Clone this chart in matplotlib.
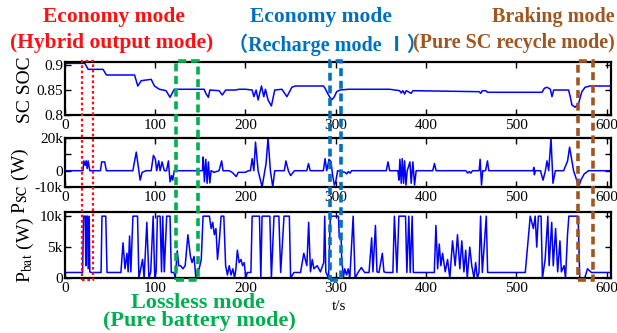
import matplotlib
matplotlib.use('Agg')
import matplotlib.pyplot as plt
from matplotlib.patches import Rectangle
from matplotlib.transforms import blended_transform_factory

plt.rcParams['font.family'] = 'serif'
plt.rcParams['font.serif'] = ['Liberation Serif', 'DejaVu Serif']
plt.rcParams['mathtext.fontset'] = 'stix'

# 超级电容 SOC
soc_t = [0, 22.0, 25.7, 42.2, 45.9, 77.1, 80.7, 84.5, 95.5, 99.1, 104.6, 112, 116.4, 121.1,
         154.2, 156, 158.9, 160.5, 170.7, 174.3, 178.1, 189.1, 192.7, 200.1, 207.4, 209.3,
         211.8, 214, 217.7, 220.3, 222.1, 225, 228.7, 232.4, 240.4, 245.9, 251.4, 255.2,
         286.3, 288.2, 291.9, 295.5, 298.5, 301, 304.7, 313.9, 359.8, 370.8, 372.6, 374.4,
         376.3, 378.1, 383.6, 385.5, 458.9, 460.7, 462.6, 466.2, 468.1, 528.6, 531.2, 534.1,
         537.8, 539.6, 541.5, 558, 559.8, 561.7, 565.3, 569.1, 572.7, 576.3, 581.8, 605]
soc_v = [0.9024, 0.9024, 0.8905, 0.8905, 0.8793, 0.8793, 0.8575, 0.868, 0.8707, 0.8575,
         0.851, 0.8482, 0.835, 0.851, 0.851, 0.843, 0.835, 0.8495, 0.8482, 0.8397, 0.8495,
         0.8495, 0.851, 0.851, 0.8495, 0.8363, 0.8495, 0.8298, 0.8575, 0.8363, 0.851, 0.8298,
         0.8179, 0.8495, 0.851, 0.8363, 0.855, 0.8575, 0.8575, 0.853, 0.8397, 0.8298, 0.8363,
         0.8462, 0.8495, 0.851, 0.851, 0.8482, 0.8436, 0.8482, 0.8416, 0.8482, 0.843, 0.8482,
         0.8462, 0.843, 0.8482, 0.8482, 0.845, 0.845, 0.853, 0.855, 0.851, 0.8363, 0.8495,
         0.8495, 0.8363, 0.8199, 0.8153, 0.8232, 0.8462, 0.855, 0.8575, 0.8575]

# 超级电容功率 (kW)
psc_t = [0, 20, 20.9, 22.4, 23.5, 24.6, 25.7, 27.5, 39.3, 40.7, 44, 45.9, 75.2, 79, 81.8,
         83.3, 85.5, 90, 95.5, 98, 100.2, 101.6, 103.9, 105.4, 107.6, 110.1, 112.5, 114.6,
         116.4, 118.2, 119.3, 121.1, 152.3, 153.1, 154.5, 156, 157.5, 158.9, 160.5, 161.9,
         165.2, 170.7, 173.6, 175.1, 181.7, 185.3, 189.8, 192, 200, 203.1, 205.5, 207.4,
         209.3, 211.1, 214, 218.4, 222.8, 225, 227.6, 230.2, 232.4, 243, 244.8, 247.5, 250,
         251.4, 254.4, 268, 269.8, 271.7, 286.3, 288.2, 290, 292.6, 294.8, 296.6, 298.5,
         299.9, 302.1, 310.2, 312.1, 314, 315.8, 317.6, 356, 357.9, 359.8, 368.9, 370, 371.1,
         372.6, 373.7, 375.2, 376.3, 377.8, 379.2, 382.2, 383.6, 385.5, 387.3, 389.1, 407.5,
         409.4, 411.2, 444.2, 446.1, 448, 449.7, 451.5, 458.9, 460, 461.5, 462.9, 466, 468.1,
         469.6, 518.7, 519.5, 520.1, 521.2, 526.8, 529.7, 532.3, 534.1, 536, 538.5, 540.7,
         543.3, 552.5, 556.9, 559.1, 561.7, 563.5, 566.3, 569.1, 571.6, 575.3, 580.1, 605]
psc_v = [0, 0, 6, 3.3, 6.1, 1.3, 6, 0, 0, 5.4, 5.4, 0, 0, 11.4, 0,
         -5.8, -1, 0, 0, 9.4, 7, 0, 6, 0, 5.4, 0, 0, 6,
         -6.8, -3, -5.8, 0, 0, 8.4, -6.8, 7, -7.7, 5.4, -7.5, 0,
         -1, 0, 6, 0, 0, -1, -3.6, -1, -1, 0, 0, 7.4,
         0, 17.5, 0, -10, 4.4, 20, 0, -10, 0, 0, 6, 0, -3,
         -2, 0, 0, 4.4, 0, 0, 7.4, 0, 7, 5.4, -3, -8.8,
         -7, 0, -1, -2, -0.5, -1.5, 0, 0, 5.4, 0, 0, -5.8, 7,
         -7.7, 7.4, -7.7, 6, -8.8, 0, 5.4, -7.7, 5.4, -8.8, 0, 0,
         4.4, 0, 0, -1.5, -0.5, -1.5, 0, 0, 7, -8.8, 0, 0, 6,
         0, 0, 2, -2.5, 0, 0, -5.8, 0, 6, 0, 20, -7.7,
         0, 0, 6, 14.4, 6, 0, -4.6, -10, -5.8, -2, 0, 0]

# 蓄电池功率 (kW)
pbat_t = [0, 19.5, 20.6, 22.4, 23.1, 23.9, 25, 25.7, 26.8, 27.5, 29, 40, 41, 45.2, 46.6,
          62, 64.3, 66.5, 68.7, 70, 71.6, 73, 75.3, 80.4, 81.9, 84, 86, 87.7, 90.7, 93, 95,
          97.7, 99.5, 101, 102.4, 105.4, 107, 108.3, 110, 112.7, 116.4, 117.8, 120.8, 122.2,
          124.4, 126, 128, 130.7, 133.2, 136.2, 139, 140.8, 143, 145, 147.4, 148.7, 151, 153,
          160, 162, 163.7, 165.5, 167.3, 169, 171, 173, 176, 178, 180, 182, 184, 186, 188,
          189.4, 191, 193, 195, 196.8, 198.6, 200.4, 202, 206, 207.4, 215.5, 217, 218.4, 227,
          228.7, 231.6, 237, 239, 242.7, 248.6, 250, 253.7, 261, 264.6, 268, 270, 272, 274,
          275.8, 279.5, 283, 286.7, 287.8, 289, 292, 294, 303, 303.9, 306, 306.5, 308.4, 310,
          312, 313.8, 315.6, 319.3, 321.4, 324.7, 328.4, 332, 336.9, 339.8, 341.2, 344, 345.7,
          347.9, 351.6, 353.4, 356, 363.3, 365, 367.8, 370, 377.3, 378.8, 381, 382.5, 384.7,
          386, 409.2, 411, 412.9, 414.7, 416.5, 418.4, 421.3, 423.9, 426.4, 429.4, 432.3,
          434.9, 437.5, 439.7, 442, 444, 445.7, 448.5, 450.7, 453.2, 455, 456.9, 458.7, 460.5,
          462.4, 466.8, 468.3, 510, 515.5, 519, 521, 522.7, 524.5, 527.5, 529, 532, 535,
          536.4, 539.3, 541, 543.6, 545.9, 548.4, 550, 553, 554.6, 556.8, 558.3, 568.5, 570.4,
          575.9, 578.9, 583.3, 605]
pbat_v = [0.9, 0.9, 10, 10, 2, 10, 10, 1.5, 10, 1, 0.9, 0.9, 10, 10, 0.9,
          0.9, 5.7, 1.5, 4, 1, 6.8, 1, 10, 10, 0, 1.5, 3, 0, 9, 0, 1,
          10, 0, 1, 10, 10, 1, 10, 1, 10, 10, 0.9, 0.9, 0,
          4.4, 2, 2, 1.5, 2, 7, 3.5, 2.5, 3.5, 0, 1.5, 1.5, 3, 10,
          10, 8, 9, 7, 8, 3, 6, 10, 10, 2, 0.5, 2, 0.5, 1.5, 0,
          1.5, 4.5, 2.5, 3, 2, 2.5, 0, 0.9, 0.9, 10, 10, 0, 10, 10,
          0, 10, 10, 0.9, 10, 10, 0, 0.9, 0.9, 4, 2, 9, 1, 3,
          1.5, 2, 1, 2.5, 10, 1, 0, 10, 10, 6.5, 6.5, 3.5, 0, 1.5,
          0.5, 1.5, 0, 10, 0, 0.9, 1.7, 0.9, 0.9, 6.5, 1, 8.5, 1,
          0.9, 4, 1, 0.9, 0.9, 10, 0.9, 10, 10, 0.9, 10, 0.9, 10,
          0.9, 0.9, 8.5, 1.5, 5.5, 2, 4, 1, 3, 0, 6, 2,
          7, 1.5, 6, 1, 4.5, 0, 5, 2, 0, 2.5, 0, 0.9, 10,
          0.9, 10, 0.9, 0.9, 10, 8, 10, 5, 10, 10, 0, 3, 10,
          2, 9, 2, 8, 1, 6, 1, 2, 0, 7, 10, 10, 0,
          0, 1.5, 0.9, 0.9]

# 工作模式区间 (s)
mode_spans = [(18.7, 30.8), (123.3, 147.6), (294, 306), (568.3, 584.8)]
mode_colors = ['#FF1010', '#00B050', '#0070C0', '#A0561E']

fig = plt.figure(figsize=(6.17, 3.33), dpi=100)
ax1 = fig.add_axes([0.1053, 0.6547, 0.885, 0.159])
ax2 = fig.add_axes([0.1053, 0.4384, 0.885, 0.147])
ax3 = fig.add_axes([0.1053, 0.165, 0.885, 0.197])

ax1.plot(soc_t, soc_v, color='#0000FF', lw=1.1)
ax2.plot(psc_t, [v * 1000 for v in psc_v], color='#0000FF', lw=1.1)
ax3.plot(pbat_t, [v * 1000 for v in pbat_v], color='#0000FF', lw=1.1)

ax1.set_ylim(0.8, 0.905)
ax1.set_yticks([0.8, 0.85, 0.9])
ax1.set_yticklabels(['0.8', '0.85', '0.9'])
ax2.set_ylim(-10000, 20000)
ax2.set_yticks([-10000, 0, 10000, 20000])
ax2.set_yticklabels(['-10k', '0', '', '20k'])
ax3.set_ylim(0, 10600)
ax3.set_yticks([0, 5000, 10000])
ax3.set_yticklabels(['0', '5k', '10k'])

for ax in (ax1, ax2, ax3):
    ax.set_xlim(0, 605)
    ax.set_xticks(range(0, 601, 100))
    ax.tick_params(direction='in', top=True, right=True, length=4, width=1,
                   labelsize=11, pad=1.5)
    ax.tick_params(axis='x', pad=3)
    for s in ax.spines.values():
        s.set_linewidth(1.6)

# y 轴标签
fig.text(25 / 617, 0.73, 'SC SOC', rotation=90, ha='center', va='center', fontsize=14)
fig.text(20 / 617, 0.456, r'P$_{\rm SC}$ (W)', rotation=90, ha='center', va='center', fontsize=14)
fig.text(25 / 617, 0.249, r'P$_{\rm bat}$ (W)', rotation=90, ha='center', va='center', fontsize=14)
fig.text(0.549, 0.08, 't/s', ha='center', va='center', fontsize=11)

# 模式虚线框
trans = blended_transform_factory(ax3.transData, fig.transFigure)
y_bot, y_top = 0.160, 0.817
for (t0, t1), c in zip(mode_spans, mode_colors):
    if c == '#FF1010':
        ls, lw = (0, (1.2, 1.2)), 1.6
    else:
        ls, lw = (0, (2.2, 1.3)), 2.6
    rect = Rectangle((t0, y_bot), t1 - t0, y_top - y_bot, transform=trans, fill=False,
                     edgecolor=c, linestyle=ls, linewidth=lw, clip_on=False, zorder=5)
    fig.add_artist(rect)

# 模式文字
fig.text(0.185, 0.949, 'Economy mode', color=mode_colors[0], fontsize=15.5,
         fontweight='bold', ha='center', va='center')
fig.text(0.1815, 0.871, '(Hybrid output mode)', color=mode_colors[0], fontsize=15.5,
         fontweight='bold', ha='center', va='center')
fig.text(0.52, 0.949, 'Economy mode', color=mode_colors[2], fontsize=15.5,
         fontweight='bold', ha='center', va='center')
fig.text(0.53, 0.865, '（Recharge mode Ⅰ）', color=mode_colors[2], fontsize=14.5,
         fontweight='bold', ha='center', va='center',
         family=['Liberation Serif', 'Noto Sans CJK SC'])
fig.text(0.896, 0.949, 'Braking mode', color=mode_colors[3], fontsize=14.5,
         fontweight='bold', ha='center', va='center')
fig.text(0.833, 0.871, '(Pure SC recycle mode)', color=mode_colors[3], fontsize=14.5,
         fontweight='bold', ha='center', va='center')
fig.text(0.321, 0.09, 'Lossless mode', color=mode_colors[1], fontsize=16,
         fontweight='bold', ha='center', va='center')
fig.text(0.323, 0.037, '(Pure battery mode)', color=mode_colors[1], fontsize=16,
         fontweight='bold', ha='center', va='center')

fig.savefig('out.png', dpi=100)
